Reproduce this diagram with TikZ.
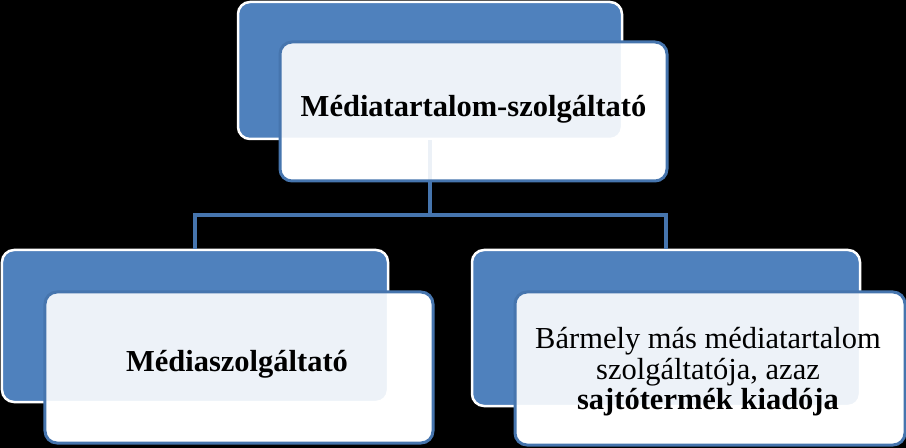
\documentclass[tikz,border=0pt]{standalone}
\usepackage{fontspec}
\setmainfont{Liberation Serif}
\begin{document}
\begin{tikzpicture}[x=1bp,y=-1bp,
  backbox/.style={rectangle, rounded corners=12bp, fill=boxblue, draw=white, line width=2.5bp, inner sep=0pt},
  frontbase/.style={rectangle, rounded corners=12bp, fill=white, inner sep=0pt},
  frontbox/.style={rectangle, rounded corners=12bp, fill=white, fill opacity=0.9, text opacity=1, draw=edgeblue, draw opacity=1, line width=3bp, inner sep=0pt},
  conn/.style={draw=edgeblue, line width=3.5bp},
  lbl/.style={font=\fontsize{30.5bp}{30.5bp}\selectfont, align=center, text=black}]
\definecolor{boxblue}{HTML}{4F81BD}
\definecolor{edgeblue}{HTML}{4675AE}
\fill[black] (0,0) rectangle (906,448);
\useasboundingbox (0,0) rectangle (906,448);
% white bases of the front boxes
\node[frontbase, minimum width=387bp, minimum height=139bp] (tf0) at (473.5,111.5) {};
\node[frontbase, minimum width=388bp, minimum height=151bp] (lf0) at (239,367.5) {};
\node[frontbase, minimum width=390bp, minimum height=153bp] (rf0) at (710,368.5) {};
% back boxes
\node[backbox, minimum width=384bp, minimum height=137bp] (tb) at (430,70.5) {};
\node[backbox, minimum width=386bp, minimum height=152bp] (lb) at (195,326) {};
\node[backbox, minimum width=388bp, minimum height=156bp] (rb) at (666,328) {};
% connectors
\coordinate (j) at (430,215);
\draw[conn] (tb.south) -- (j);
\draw[conn] (lb.north) |- (j) -| (rb.north);
% front boxes
\node[frontbox, minimum width=387bp, minimum height=139bp] (tf) at (473.5,111.5) {};
\node[frontbox, minimum width=388bp, minimum height=151bp] (lf) at (239,367.5) {};
\node[frontbox, minimum width=390bp, minimum height=153bp] (rf) at (710,368.5) {};
% labels
\node[lbl] (tt) at (473.5,109) {\bfseries Médiatartalom-szolgáltató};
\node[lbl] (lt) at (237,364) {\bfseries Médiaszolgáltató};
\node[lbl] (rt) at (708,372) {Bármely más médiatartalom\\szolgáltatója, azaz\\\bfseries sajtótermék kiadója};
\end{tikzpicture}
\end{document}
